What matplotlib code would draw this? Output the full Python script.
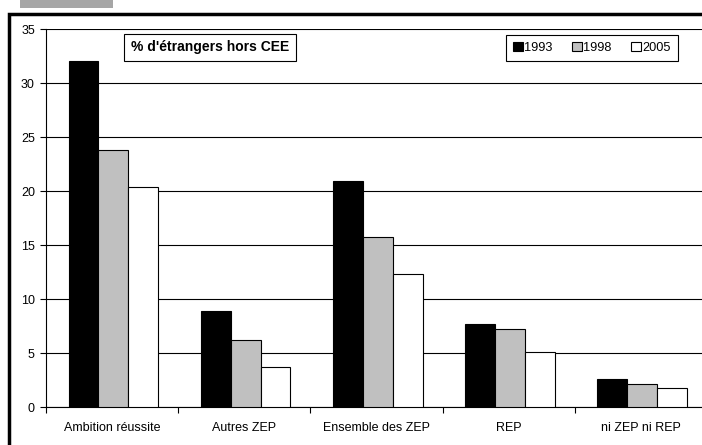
import matplotlib.pyplot as plt
import matplotlib.patches as mpatches
import numpy as np

plt.rcParams['font.family'] = ['Liberation Sans', 'DejaVu Sans']

# Data
categories = ["Ambition réussite", "Autres ZEP", "Ensemble des ZEP", "REP", "ni ZEP ni REP"]
years = ["1993", "1998", "2005"]
v1993 = [32.0, 8.9, 20.9, 7.7, 2.6]
v1998 = [23.8, 6.2, 15.7, 7.2, 2.1]
v2005 = [20.4, 3.7, 12.3, 5.1, 1.8]
colors = ['black', '#c0c0c0', 'white']

fig = plt.figure(figsize=(7.02, 4.45), dpi=100)
W, H = 702, 445
ax = fig.add_axes([46 / W, (H - 407) / H, 661 / W, 378 / H])

x = np.arange(len(categories))
bw = 0.226
for k, (vals, c) in enumerate(zip([v1993, v1998, v2005], colors)):
    ax.bar(x + (k - 1) * bw + 0.01, vals, width=bw, color=c, edgecolor='black',
           linewidth=0.8, zorder=3, label=years[k])

ax.set_xlim(-0.5, len(categories) - 0.5)
ax.set_ylim(0, 35)
ax.set_yticks(range(0, 36, 5))
ax.set_xticks(x)
ax.set_xticklabels(categories, fontsize=9)
ax.set_xticks(np.arange(-0.5, len(categories)), minor=True)
ax.tick_params(axis='x', which='major', length=0, pad=11)
ax.tick_params(axis='x', which='minor', length=4, direction='out', width=0.8)
ax.tick_params(axis='y', length=4, direction='out', width=0.8, labelsize=9, pad=4)
ax.grid(True, axis='y', color='black', linewidth=0.8, zorder=0)
for s in ['top', 'right']:
    ax.spines[s].set_visible(False)
for s in ['left', 'bottom']:
    ax.spines[s].set_linewidth(0.8)

# Title box
fig.text(210 / W, 1 - 47.5 / H, "% d'étrangers hors CEE", fontsize=10, fontweight='bold',
         ha='center', va='center',
         bbox=dict(boxstyle='square,pad=0.5', facecolor='white', edgecolor='black', linewidth=0.8))

# Legend
handles = [mpatches.Patch(facecolor=c, edgecolor='black', linewidth=0.8, label=y)
           for c, y in zip(colors, years)]
leg = fig.legend(handles=handles, ncol=3, loc='center', bbox_to_anchor=(592 / W, 1 - 48 / H),
                 fontsize=9.2, fancybox=False, edgecolor='black', framealpha=1,
                 handlelength=0.75, handleheight=0.75, handletextpad=0.15, columnspacing=1.5,
                 borderpad=0.55)
leg.get_frame().set_linewidth(0.8)

# Outer frame and grey tab
fig.add_artist(mpatches.Rectangle((8.5 / W, -0.1), 1.1, 1 - 13.5 / H + 0.1, transform=fig.transFigure,
                                  fill=False, edgecolor='black', linewidth=2.5))
fig.add_artist(mpatches.Rectangle((20 / W, 1 - 8 / H), 93 / W, 8 / H, transform=fig.transFigure,
                                  facecolor='#a6a6a6', edgecolor='none'))

fig.savefig("out.png", dpi=100)
